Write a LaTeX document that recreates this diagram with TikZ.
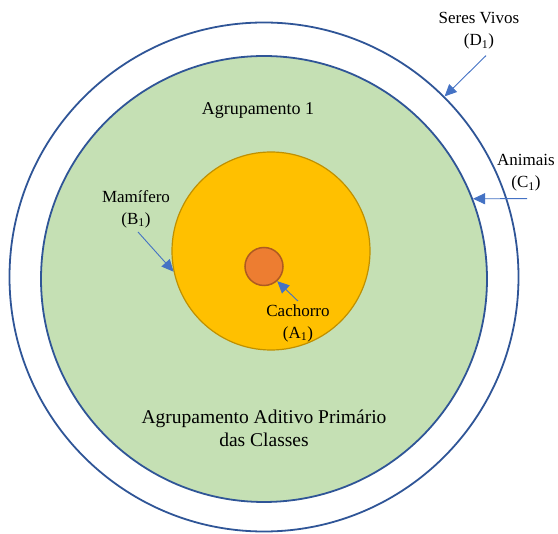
\documentclass[tikz,border=0pt]{standalone}
\usepackage{fontspec}
\setmainfont{Liberation Serif}
\usetikzlibrary{arrows.meta}
\definecolor{ringblue}{HTML}{2F5597}
\definecolor{arrowblue}{HTML}{4472C4}
\definecolor{leafgreen}{HTML}{C5E0B4}
\definecolor{goldfill}{HTML}{FFC000}
\definecolor{goldline}{HTML}{BF9000}
\definecolor{dogfill}{HTML}{ED7D31}
\definecolor{dogline}{HTML}{AE5A21}
\newcommand{\idx}[1]{\textsubscript{#1}}
\tikzset{
  ring/.style={circle, inner sep=0pt, line width=1.8pt},
  tag/.style={align=center, inner sep=1pt, font=\fontsize{17}{22}\selectfont},
  pointer/.style={draw=arrowblue, line width=0.9pt, -{Triangle[length=12pt, width=11pt]}}
}

\begin{document}
\begin{tikzpicture}[x=1pt, y=-1pt]
        \useasboundingbox (0,0) rectangle (558,534);
        % Circles
        \node[ring, draw=ringblue, fill=white, minimum size=509pt] (D) at (264, 277) {};
        \node[ring, draw=ringblue, fill=leafgreen, minimum size=446pt] (C) at (264, 279) {};
        \node[ring, draw=goldline, fill=goldfill, line width=1.2pt, minimum size=198pt] (B) at (271, 251) {};
        \node[ring, draw=dogline, fill=dogfill, line width=1.5pt, minimum size=38pt] (A) at (264, 266.5) {};

        % Labels
        \node[tag] (SV) at (479, 31) {Seres Vivos\\(D\idx{1})};
        \node[tag] (AN) at (526, 173) {Animais\\(C\idx{1})};
        \node[tag] (MA) at (136, 209) {Mamífero\\(B\idx{1})};
        \node[tag] (CA) at (298, 323) {Cachorro\\(A\idx{1})};
        \node[tag, font=\fontsize{18}{22}\selectfont] (G1) at (258, 111) {Agrupamento 1};
        \node[tag, font=\fontsize{19.5}{23}\selectfont] (GA) at (264, 428.5) {Agrupamento Aditivo Primário\\das Classes};

        % Arrows
        \draw[pointer] ([xshift=7pt, yshift=-5pt]SV.south) -- (D.45.5);
        \draw[pointer] ([xshift=1pt, yshift=-6pt]AN.south) -- (C.21.5);
        \draw[pointer] ([xshift=2pt, yshift=-3pt]MA.south) -- (B.192);
        \draw[pointer] ([xshift=0pt, yshift=2pt]CA.north) -- (A.312);
    \end{tikzpicture}
\end{document}
